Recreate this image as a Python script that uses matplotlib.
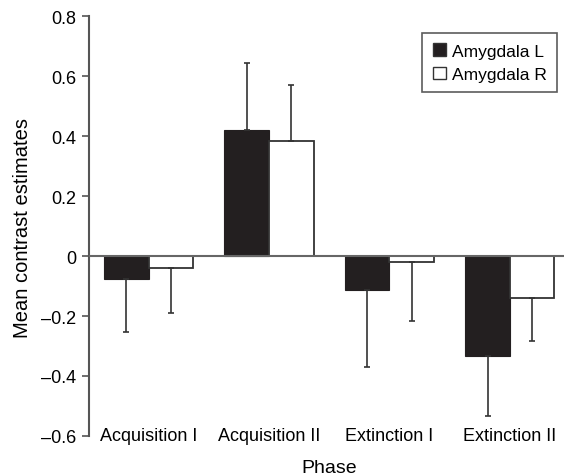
import numpy as np
import matplotlib.pyplot as plt
from matplotlib.patches import Patch

plt.rcParams['font.family'] = ['Liberation Sans', 'DejaVu Sans']

phases = ['Acquisition I', 'Acquisition II', 'Extinction I', 'Extinction II']
left_vals = [-0.077, 0.42, -0.113, -0.332]
right_vals = [-0.04, 0.382, -0.019, -0.14]
left_err = [0.176, 0.222, 0.257, 0.201]
right_err = [0.149, 0.189, 0.198, 0.144]

yticks = [-0.6, -0.4, -0.2, 0, 0.2, 0.4, 0.6, 0.8]
ytick_labels = ['–0.6', '–0.4', '–0.2', '0', '0.2', '0.4', '0.6', '0.8']

fig = plt.figure(figsize=(5.68, 4.77), dpi=100)
ax = fig.add_axes([89 / 568, 40 / 477, 475 / 568, 420 / 477])

x = np.arange(len(phases))
w = 0.37
dark = '#231f20'
edge = '#333333'

# error bars only on the side the bar points to
def one_sided(vals, errs):
    lo = [e if v < 0 else 0 for v, e in zip(vals, errs)]
    hi = [e if v >= 0 else 0 for v, e in zip(vals, errs)]
    return [lo, hi]

ekw = dict(ecolor=edge, elinewidth=1.2, capsize=2.2, capthick=1.2)
ax.bar(x - w / 2, left_vals, w, color=dark, edgecolor=dark, linewidth=0.8,
       yerr=one_sided(left_vals, left_err), error_kw=ekw, zorder=2)
ax.bar(x + w / 2, right_vals, w, color='white', edgecolor=edge, linewidth=1.3,
       yerr=one_sided(right_vals, right_err), error_kw=ekw, zorder=2)

ax.axhline(0, color='#666666', lw=1.5, zorder=3)

ax.set_xlim(-0.495, 3.45)
ax.set_ylim(-0.6, 0.8)
ax.set_yticks(yticks)
ax.set_yticklabels(ytick_labels, fontsize=13)
ax.tick_params(axis='y', length=5, width=1.2, color='#555555', pad=4)

ax.set_xticks([])
for xi, name in zip(x, phases):
    ax.text(xi, -0.6, name, ha='center', va='center', fontsize=13)

for s in ['top', 'right', 'bottom']:
    ax.spines[s].set_visible(False)
ax.spines['left'].set_color('#555555')
ax.spines['left'].set_linewidth(1.5)

fig.text(23 / 568, 1 - 228 / 477, 'Mean contrast estimates', rotation=90,
         ha='center', va='center', fontsize=14.5)
fig.text(329 / 568, 1 - 469 / 477, 'Phase', ha='center', va='center', fontsize=14)

handles = [Patch(facecolor=dark, edgecolor=edge, label='Amygdala L'),
           Patch(facecolor='white', edgecolor=edge, label='Amygdala R')]
leg = ax.legend(handles=handles, loc='upper right', bbox_to_anchor=(557 / 568, 1 - 34 / 477),
                bbox_transform=fig.transFigure, fontsize=12.5, fancybox=False,
                edgecolor='#333333', handlelength=0.75, handleheight=0.75,
                handletextpad=0.35, borderpad=0.6, labelspacing=0.45,
                borderaxespad=0)
leg.get_frame().set_linewidth(1.2)

fig.savefig('out.png', dpi=100)
